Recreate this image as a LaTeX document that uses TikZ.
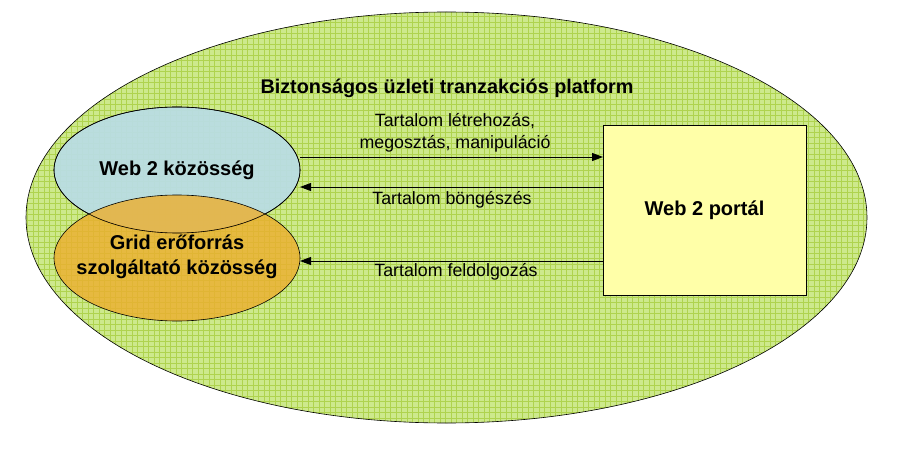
\documentclass[tikz,border=0pt]{standalone}
\usepackage{fontspec}
\setmainfont{Liberation Sans}
\usetikzlibrary{arrows.meta,shapes.geometric}
\definecolor{platgreen}{HTML}{CDE98C}
\definecolor{gridgreen}{HTML}{AFD34E}
\definecolor{webblue}{HTML}{B9DDE6}
\definecolor{gridorange}{HTML}{EDAE2E}
\definecolor{portalyellow}{HTML}{FFFFA8}
\tikzset{
  community/.style={ellipse, draw=black, line width=0.6pt, minimum width=246pt, minimum height=126pt, inner sep=0pt},
  nodetext/.style={font=\fontsize{20}{24}\selectfont\bfseries, align=center, inner sep=0pt},
  flow/.style={-{Triangle[length=11pt,width=8pt]}, line width=0.9pt},
  flowlabel/.style={font=\fontsize{17.8}{21.5}\selectfont, align=center, inner sep=0pt}
}
\begin{document}
\begin{tikzpicture}[x=1pt,y=-1pt]
\useasboundingbox (0,0) rectangle (907,457);
% platform ellipse
\node (plat) [ellipse, minimum width=841pt, minimum height=411pt, inner sep=0pt, fill=platgreen] at (446.5,217.5) {};
\begin{scope}
  \clip (446.5,217.5) ellipse [x radius=420.5pt, y radius=205.5pt];
  \foreach \i in {0,5.5,...,907} {\draw[gridgreen, line width=0.45pt] (\i,0) -- (\i,457);}
  \foreach \j in {0,5.5,...,457} {\draw[gridgreen, line width=0.45pt] (0,\j) -- (907,\j);}
\end{scope}
\draw[line width=0.6pt] (plat.center) ellipse [x radius=420.5pt, y radius=205.5pt];
\node (title) [font=\fontsize{19.8}{24}\selectfont\bfseries] at (447,88) {Biztonságos üzleti tranzakciós platform};
% communities
\node (web) [community, fill=webblue, fill opacity=0.92, text opacity=1] at (177,170) {};
\node (grid) [community, fill=gridorange, fill opacity=0.8, text opacity=1] at (177,258) {};
\draw[line width=0.6pt] (web.center) ellipse [x radius=123pt, y radius=63pt];
\node (webtxt) [nodetext] at (177,170) {Web 2 közösség};
\node (gridtxt) [nodetext, font=\fontsize{20}{25}\selectfont\bfseries] at (177,257) {Grid erőforrás\\szolgáltató közösség};
% portal
\node (portal) [draw=black, line width=0.8pt, fill=portalyellow, minimum width=203pt, minimum height=170pt, inner sep=0pt] at (704.5,210) {};
\node (portaltxt) [nodetext] at (portal.center) {Web 2 portál};
% flows
\coordinate (a1s) at (300,157); \coordinate (a1e) at (603,157);
\coordinate (a2s) at (603,187); \coordinate (a2e) at (300,187);
\coordinate (a3s) at (603,261); \coordinate (a3e) at (300,261);
\draw[flow] (a1s) -- (a1e);
\draw[flow] (a2s) -- (a2e);
\draw[flow] (a3s) -- (a3e);
\node (l1) [flowlabel] at (455,133) {Tartalom létrehozás,\\megosztás, manipuláció};
\node (l2) [flowlabel] at (452,200) {Tartalom böngészés};
\node (l3) [flowlabel] at (456,272) {Tartalom feldolgozás};
\end{tikzpicture}
\end{document}
